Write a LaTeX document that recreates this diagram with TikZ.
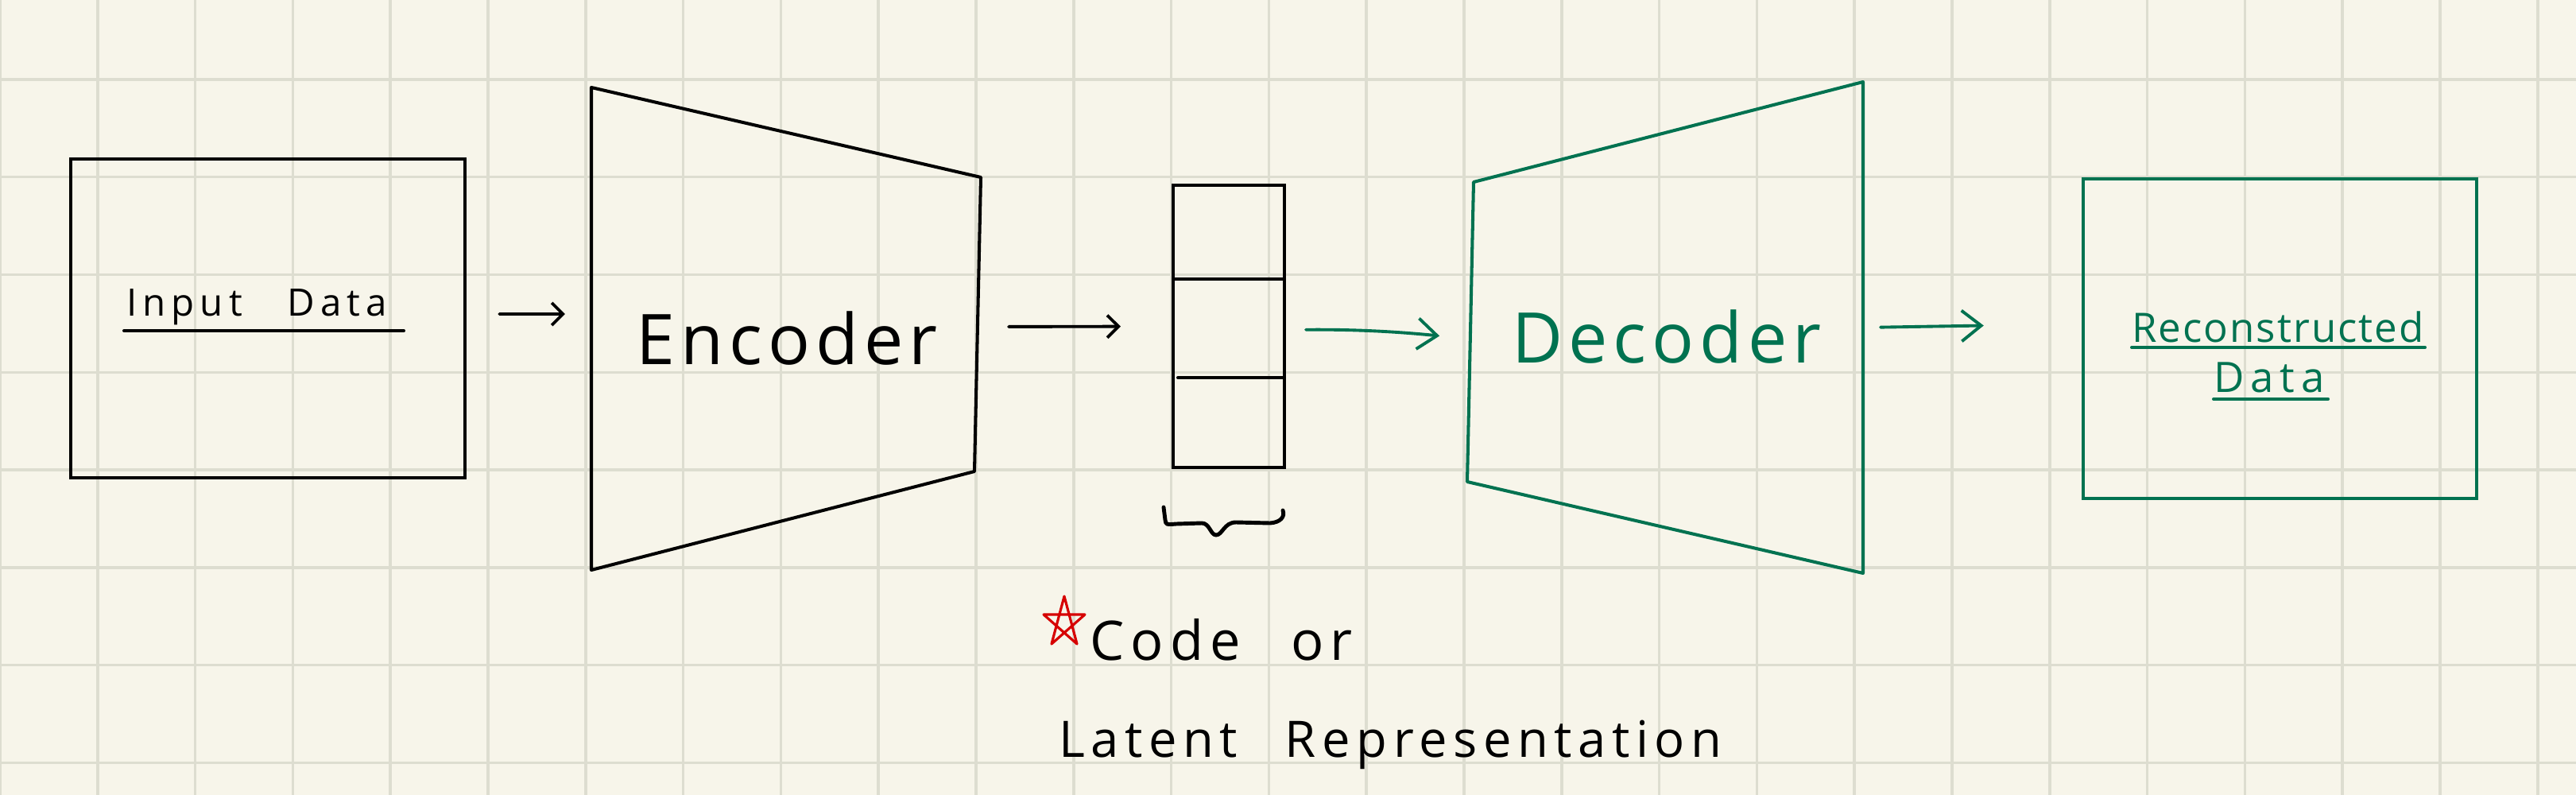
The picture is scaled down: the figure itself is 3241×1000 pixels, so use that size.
\documentclass[tikz,border=0pt]{standalone}
\usepackage{fontspec}
\setmainfont{Open Sans}
\newfontfamily\hand[LetterSpace=15]{Open Sans}
\newfontfamily\handmid[LetterSpace=12]{Open Sans}
\newfontfamily\handbig[LetterSpace=8]{Open Sans}
\newfontfamily\handtight[LetterSpace=4]{Open Sans}
\usetikzlibrary{arrows.meta,fit}
\definecolor{paper}{RGB}{247,245,234}
\definecolor{gridc}{RGB}{221,221,208}
\definecolor{dgreen}{RGB}{0,114,80}
\definecolor{starred}{RGB}{214,0,0}
\begin{document}
\begin{tikzpicture}[x=0.01cm,y=-0.01cm,
  line/.style={line width=1.15pt, line join=miter, line cap=round},
  box/.style={draw, line width=1.15pt, minimum width=4.96cm, minimum height=4.01cm, inner sep=0pt},
  codebox/.style={draw, line width=1.15pt, minimum width=1.40cm, minimum height=3.55cm, inner sep=0pt},
  hull/.style={inner sep=0pt, outer sep=0pt},
  txt/.style={inner sep=0pt, outer sep=0pt},
  arr/.style={line width=1.1pt, line cap=round, -{Straight Barb[length=4pt,width=8pt]}},
  garr/.style={draw=dgreen, line width=1.1pt, line cap=round, -{Straight Barb[length=7pt,width=11pt]}}
]
% paper and grid
\fill[paper] (0,0) rectangle (3241,1000);
\useasboundingbox (0,0) rectangle (3241,1000);
\foreach \k in {0,...,26} \draw[gridc, line width=1pt] (\k*122.8,0) -- (\k*122.8,1000);
\foreach \k in {0,...,7} \draw[gridc, line width=1pt] (0,99.9+\k*122.8) -- (3241,99.9+\k*122.8);

% input data
\node[box] (inbox) at (337,400.5) {};
\node[txt, anchor=base, font=\hand\fontsize{13.5}{16}\selectfont] (intxt) at (323,397) {Input\hspace{16pt}Data};
\draw[line] (156,416) -- (508,416);

% encoder
\coordinate (e1) at (744,110);
\coordinate (e2) at (1234,223);
\coordinate (e3) at (1226,593);
\coordinate (e4) at (744,717);
\draw[line, line join=round] (e1) -- (e2) -- (e3) -- (e4) -- cycle;
\node[hull, fit=(e1)(e2)(e3)(e4)] (enc) {};
\node[txt, anchor=base, font=\handbig\fontsize{25}{30}\selectfont] (enctxt) at (990,458) {Encoder};

% code vector
\node[codebox] (code) at (1546,410.5) {};
\draw[line] (1476,351) -- (1616,351);
\draw[line] (1482,475) -- (1616,475);
\draw[line, line width=1.4pt] (1464,638) -- (1466,654) .. controls (1467,660) .. (1480,659) -- (1512,658)
  .. controls (1522,658) and (1523,673) .. (1530,673)
  .. controls (1538,673) and (1540,657) .. (1555,657) -- (1598,658)
  .. controls (1611,657) and (1617,650) .. (1614,642);

% decoder
\coordinate (d1) at (1854,229);
\coordinate (d2) at (2344,103);
\coordinate (d3) at (2344,721);
\coordinate (d4) at (1846,606);
\draw[line, draw=dgreen, line join=round] (d1) -- (d2) -- (d3) -- (d4) -- cycle;
\node[hull, fit=(d1)(d2)(d3)(d4)] (dec) {};
\node[txt, anchor=base, text=dgreen, font=\handbig\fontsize{25}{30}\selectfont] (dectxt) at (2097,456) {Decoder};

% reconstructed data
\node[box, draw=dgreen, minimum width=4.95cm, minimum height=4.02cm] (recon) at (2868.5,426) {};
\node[txt, anchor=base, text=dgreen, font=\handtight\fontsize{14.5}{17}\selectfont] (rectxt1) at (2866,430) {Reconstructed};
\node[txt, anchor=base, text=dgreen, font=\hand\fontsize{15}{18}\selectfont] (rectxt2) at (2855,493) {Data};
\draw[line, draw=dgreen] (2682,437) -- (3051,437);
\draw[line, draw=dgreen] (2785,502) -- (2929,502);

% connectors
\draw[arr, shorten <=0.41cm, shorten >=0.33cm] ([yshift=0.055cm]inbox.east) -- ([yshift=0.185cm]enc.west);
\draw[arr, shorten <=0.35cm, shorten >=0.64cm] ([yshift=0.025cm]enc.east) -- (code.west);
\draw[garr, shorten <=0.25cm, shorten >=0.35cm] ([yshift=-0.045cm]code.east)
  .. controls +(1.0cm,0.01cm) and +(-0.7cm,0.07cm) .. ([yshift=-0.14cm]dec.west);
\draw[garr, shorten <=0.22cm, shorten >=1.23cm] (dec.east) -- ([yshift=0.185cm]recon.west);

% caption
\draw[starred, line width=0.9pt, line join=round] (1339,750) -- (1355,810) -- (1313,773) -- (1365,773) -- (1323,810) -- cycle;
\node[txt, anchor=base west, font=\handmid\fontsize{19.5}{23}\selectfont] (codetxt) at (1371,830) {Code\hspace{18pt}or};
\node[txt, anchor=base west, font=\handmid\fontsize{18}{22}\selectfont] (lattxt) at (1332,952) {Latent\hspace{17pt}Representation};
\end{tikzpicture}
\end{document}
